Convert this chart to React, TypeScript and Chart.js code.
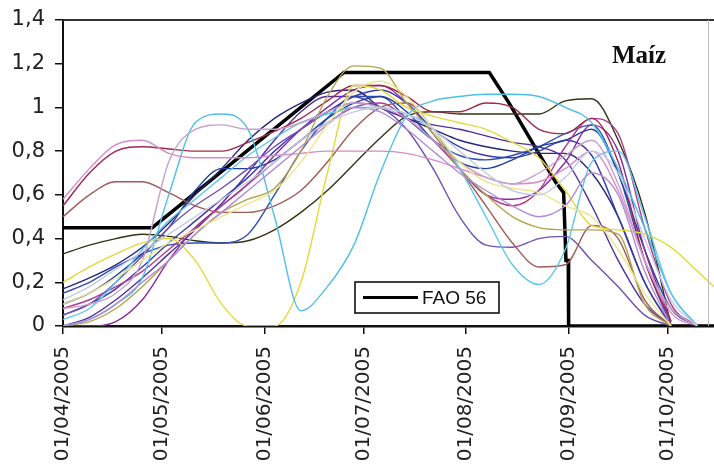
import React, { useEffect, useRef } from "react";
import { Chart, registerables } from "chart.js";

Chart.register(...registerables);

// Days since 01/04/2005 at which each series is sampled
const DAYS = [0, 8, 16, 24, 32, 40, 48, 56, 64, 72, 80, 88, 96, 104, 112, 120, 128, 136, 144, 152, 160, 168, 176, 184, 192, 197];

// X tick positions (days since 01/04/2005) and labels
const TICK_DAYS = [0, 30, 61, 91, 122, 153, 183];
const TICK_LABELS = ["01/04/2005", "01/05/2005", "01/06/2005", "01/07/2005", "01/08/2005", "01/09/2005", "01/10/2005"];

// FAO 56 reference curve (day, Kc)
const FAO_DAYS = [0, 27, 85, 129, 135, 149, 151.5, 152.2, 152.9, 153, 197];
const FAO_VALUES = [0.45, 0.45, 1.16, 1.16, 1.02, 0.66, 0.61, 0.3, 0.3, 0, 0];

// Measured curves
const cyanA = [0.0, 0.03, 0.1, 0.22, 0.6, 0.93, 0.97, 0.9, 0.5, 0.07, 0.18, 0.37, 0.7, 0.96, 1.03, 1.05, 1.06, 1.06, 1.05, 1.0, 0.93, 0.72, 0.45, 0.15, 0];
const cyanB = [0.03, 0.08, 0.2, 0.35, 0.48, 0.58, 0.68, 0.78, 0.86, 0.93, 0.97, 1.0, 1.0, 0.97, 0.9, 0.72, 0.5, 0.28, 0.19, 0.35, 0.75, 0.8, 0.5, 0.15, 0];
const yellow1 = [0.2, 0.27, 0.33, 0.38, 0.4, 0.3, 0.1, 0, 0, 0.2, 0.7, 1.1, 1.08, 1.0, 0.96, 0.93, 0.9, 0.84, 0.77, 0.62, 0.46, 0.44, 0.42, 0.36, 0.25, 0.18];
const yellow2 = [0.1, 0.15, 0.22, 0.3, 0.38, 0.44, 0.5, 0.56, 0.62, 0.75, 0.92, 1.07, 1.12, 1.05, 0.9, 0.75, 0.66, 0.63, 0.61, 0.55, 0.5, 0.35, 0.15, 0];
const khaki = [0, 0.02, 0.08, 0.18, 0.3, 0.42, 0.52, 0.58, 0.63, 0.8, 1.05, 1.19, 1.18, 1.02, 0.88, 0.72, 0.6, 0.5, 0.45, 0.44, 0.44, 0.42, 0.1, 0];
const darkOlive = [0.33, 0.37, 0.4, 0.42, 0.41, 0.39, 0.38, 0.39, 0.44, 0.52, 0.62, 0.74, 0.86, 0.96, 0.98, 0.97, 0.97, 0.97, 0.97, 1.03, 1.04, 0.85, 0.52, 0];
const pink = [0.58, 0.72, 0.83, 0.85, 0.79, 0.77, 0.77, 0.77, 0.78, 0.79, 0.8, 0.8, 0.8, 0.79, 0.76, 0.72, 0.68, 0.65, 0.66, 0.72, 0.8, 0.62, 0.3, 0.06, 0];
const maroon = [0.55, 0.7, 0.8, 0.82, 0.81, 0.8, 0.8, 0.84, 0.89, 0.95, 1.03, 1.1, 1.1, 1.05, 0.98, 0.98, 1.02, 1.0, 0.9, 0.88, 0.95, 0.75, 0.3, 0.02];
const rust = [0.5, 0.6, 0.66, 0.66, 0.61, 0.55, 0.52, 0.52, 0.55, 0.62, 0.75, 0.9, 1.0, 1.02, 0.9, 0.72, 0.55, 0.38, 0.27, 0.28, 0.46, 0.4, 0.12, 0];
const purple = [0.05, 0.1, 0.2, 0.32, 0.45, 0.55, 0.63, 0.72, 0.82, 0.9, 0.98, 1.02, 1.0, 0.9, 0.72, 0.5, 0.37, 0.36, 0.4, 0.41, 0.3, 0.18, 0.05, 0];
const navy1 = [0.17, 0.22, 0.28, 0.36, 0.47, 0.6, 0.72, 0.85, 0.95, 1.02, 1.07, 1.08, 1.0, 0.95, 0.9, 0.85, 0.82, 0.8, 0.79, 0.79, 0.7, 0.5, 0.2, 0];
const blue2 = [0.05, 0.1, 0.17, 0.27, 0.38, 0.48, 0.58, 0.68, 0.8, 0.9, 0.98, 1.05, 1.08, 1.02, 0.9, 0.82, 0.78, 0.77, 0.8, 0.85, 0.78, 0.5, 0.2, 0];
const royal3 = [0.1, 0.15, 0.23, 0.33, 0.45, 0.62, 0.72, 0.72, 0.76, 0.85, 0.95, 1.02, 1.05, 0.98, 0.85, 0.75, 0.72, 0.76, 0.82, 0.85, 0.9, 0.7, 0.35, 0.08, 0];
const blue4 = [0.15, 0.2, 0.27, 0.33, 0.37, 0.38, 0.38, 0.42, 0.6, 0.8, 0.95, 1.05, 1.05, 0.95, 0.85, 0.78, 0.76, 0.78, 0.82, 0.88, 0.92, 0.7, 0.3, 0];
const violet = [0, 0, 0.02, 0.12, 0.3, 0.45, 0.55, 0.65, 0.78, 0.9, 1.0, 1.08, 1.1, 1.02, 0.88, 0.72, 0.6, 0.58, 0.62, 0.75, 0.92, 0.8, 0.35, 0.02];
const magenta = [0.08, 0.12, 0.18, 0.25, 0.35, 0.45, 0.55, 0.65, 0.75, 0.85, 0.93, 1.0, 1.02, 0.95, 0.85, 0.72, 0.6, 0.55, 0.62, 0.82, 0.95, 0.88, 0.45, 0.1, 0];
const grayBlue = [0.12, 0.18, 0.26, 0.34, 0.42, 0.5, 0.58, 0.66, 0.75, 0.85, 0.93, 0.98, 1.0, 0.97, 0.9, 0.8, 0.7, 0.62, 0.6, 0.68, 0.8, 0.7, 0.4, 0.12, 0];
const mauve = [0.08, 0.1, 0.15, 0.3, 0.75, 0.9, 0.92, 0.9, 0.9, 0.93, 0.98, 1.02, 1.0, 0.95, 0.85, 0.75, 0.68, 0.65, 0.7, 0.78, 0.85, 0.65, 0.3, 0.08, 0];
const lavender = [0, 0.03, 0.1, 0.2, 0.3, 0.42, 0.52, 0.62, 0.72, 0.82, 0.92, 1.0, 0.98, 0.9, 0.8, 0.7, 0.62, 0.55, 0.5, 0.55, 0.7, 0.6, 0.25, 0];
const purple5 = [0, 0.04, 0.12, 0.22, 0.33, 0.44, 0.56, 0.7, 0.85, 0.98, 1.05, 1.05, 1.0, 0.95, 0.92, 0.9, 0.87, 0.84, 0.82, 0.76, 0.55, 0.3, 0.1, 0];

const SERIES: [number[], string][] = [
  [grayBlue, "#c4cce4"],
  [yellow2, "#ece68c"],
  [lavender, "#b48cd4"],
  [mauve, "#c8a0c8"],
  [pink, "#d68ac8"],
  [cyanB, "#5cc6ec"],
  [cyanA, "#4ebfe8"],
  [khaki, "#b4a44c"],
  [yellow1, "#e4d93a"],
  [rust, "#a05a5a"],
  [maroon, "#a0284a"],
  [purple, "#7050b0"],
  [magenta, "#b03a90"],
  [violet, "#8a2aa0"],
  [blue2, "#3a3ab0"],
  [royal3, "#2040a0"],
  [blue4, "#3050b8"],
  [purple5, "#5030a0"],
  [navy1, "#26267a"],
  [darkOlive, "#343414"],
];

const FAO_LABEL = "FAO 56";
const CROP_TITLE = "Maíz";

const overlay = {
  id: "overlay",
  afterDraw(chart: any) {
    const { ctx, chartArea: ca } = chart;
    ctx.save();
    // top frame line
    ctx.strokeStyle = "#333";
    ctx.lineWidth = 2;
    ctx.beginPath();
    ctx.moveTo(ca.left, ca.top);
    ctx.lineTo(ca.right, ca.top);
    ctx.stroke();
    // faint right edge
    ctx.strokeStyle = "#bbb";
    ctx.lineWidth = 1;
    ctx.beginPath();
    ctx.moveTo(ca.right - 5.5, ca.top);
    ctx.lineTo(ca.right - 5.5, ca.bottom);
    ctx.stroke();
    // title
    ctx.fillStyle = "#111";
    ctx.font = "bold 25px 'Liberation Serif', serif";
    ctx.textAlign = "center";
    ctx.textBaseline = "middle";
    ctx.fillText(CROP_TITLE, ca.left + 576, ca.top + 37);
    // legend box
    const bx = ca.left + 292, by = ca.top + 262, bw = 144, bh = 31;
    ctx.fillStyle = "#fff";
    ctx.fillRect(bx, by, bw, bh);
    ctx.strokeStyle = "#111";
    ctx.lineWidth = 1.6;
    ctx.strokeRect(bx, by, bw, bh);
    ctx.strokeStyle = "#000";
    ctx.lineWidth = 3;
    ctx.beginPath();
    ctx.moveTo(bx + 8, by + bh / 2);
    ctx.lineTo(bx + 63, by + bh / 2);
    ctx.stroke();
    ctx.fillStyle = "#111";
    ctx.font = "19px 'Liberation Sans', Arial, sans-serif";
    ctx.textAlign = "left";
    ctx.fillText(FAO_LABEL, bx + 67, by + bh / 2 + 1);
    ctx.restore();
  },
};

export default function App() {
  const ref = useRef<HTMLCanvasElement | null>(null);
  useEffect(() => {
    document.body.style.margin = "0";
    const datasets: any[] = SERIES.map(([vals, color]) => ({
      data: DAYS.map((d, i) => ({ x: d, y: i < vals.length ? vals[i] : null })),
      borderColor: color,
      borderWidth: 1.4,
      pointRadius: 0,
      cubicInterpolationMode: "monotone",
      fill: false,
      spanGaps: false,
    }));
    datasets.push({
      label: FAO_LABEL,
      data: FAO_DAYS.map((d, i) => ({ x: d, y: FAO_VALUES[i] })),
      borderColor: "#000",
      borderWidth: 3.5,
      pointRadius: 0,
      tension: 0,
      fill: false,
    });
    const chart = new Chart(ref.current!, {
      type: "line",
      data: { datasets },
      plugins: [overlay],
      options: {
        animation: false,
        responsive: false,
        layout: { padding: { top: 20, right: 0, bottom: 0, left: 0 } },
        plugins: { legend: { display: false }, tooltip: { enabled: false } },
        scales: {
          x: {
            type: "linear",
            min: 0,
            max: 197,
            afterBuildTicks: (s: any) => {
              s.ticks = TICK_DAYS.map((v) => ({ value: v }));
            },
            afterFit: (s: any) => {
              s.height = 143;
              s.paddingLeft = 0;
              s.paddingRight = 0;
            },
            ticks: {
              autoSkip: false,
              minRotation: 90,
              maxRotation: 90,
              padding: 12,
              color: "#222",
              font: { family: "'DejaVu Sans', sans-serif", size: 20 },
              callback: (v: any) => {
                const i = TICK_DAYS.indexOf(Number(v));
                return i >= 0 ? TICK_LABELS[i] : "";
              },
            },
            grid: { drawOnChartArea: false, drawTicks: true, tickLength: 8, color: "#111", lineWidth: 1.5 },
            border: { color: "#111", width: 2.5 },
          },
          y: {
            min: 0,
            max: 1.4,
            afterFit: (s: any) => {
              s.width = 63;
              s.paddingTop = 0;
              s.paddingBottom = 0;
            },
            ticks: {
              stepSize: 0.2,
              padding: 10,
              color: "#222",
              font: { family: "'DejaVu Sans', sans-serif", size: 21 },
              callback: (v: any) => String(Math.round(Number(v) * 10) / 10).replace(".", ","),
            },
            grid: { drawOnChartArea: false, drawTicks: true, tickLength: 8, color: "#111", lineWidth: 1.5 },
            border: { color: "#111", width: 2 },
          },
        },
      },
    });
    return () => chart.destroy();
  }, []);
  return (
    <div style={{ position: "fixed", left: 0, top: 0, width: 714, height: 469, background: "#fff" }}>
      <canvas ref={ref} width={714} height={469} style={{ display: "block" }} />
    </div>
  );
}
